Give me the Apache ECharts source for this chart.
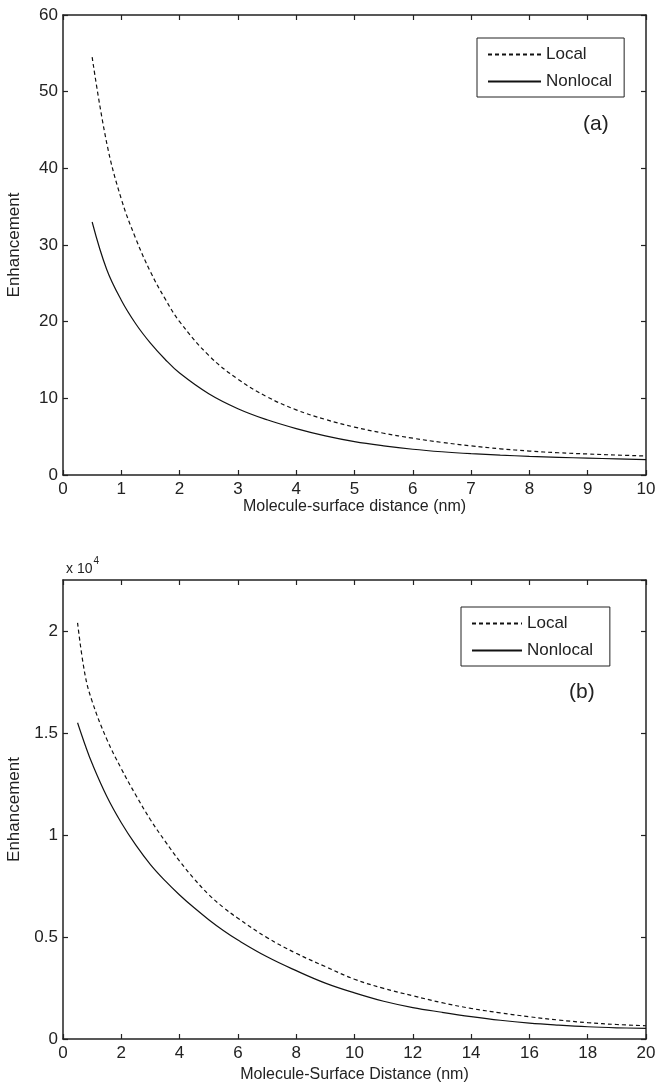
<!DOCTYPE html>
<html>
<head>
<meta charset="utf-8">
<script src="https://cdn.jsdelivr.net/npm/echarts@6/dist/echarts.min.js"></script>
<style>
html,body{margin:0;padding:0;background:#fff;}
#chart{width:655px;height:1091px;}
</style>
</head>
<body>
<div id="chart"></div>
<script>
// Panel (a)
const xA = [0.5, 0.75, 1, 1.25, 1.5, 1.75, 2, 2.5, 3, 3.5, 4, 4.5, 5, 5.5, 6, 6.5, 7, 7.5, 8, 8.5, 9, 9.5, 10];
const localA = [54.5, 43.3, 36.0, 30.8, 26.5, 23.0, 20.0, 15.6, 12.5, 10.2, 8.5, 7.25, 6.25, 5.45, 4.8, 4.25, 3.8, 3.42, 3.12, 2.9, 2.74, 2.6, 2.48];
const nonlocalA = [33.0, 26.8, 22.8, 19.7, 17.2, 15.1, 13.3, 10.6, 8.65, 7.2, 6.05, 5.1, 4.35, 3.8, 3.36, 3.03, 2.78, 2.59, 2.44, 2.31, 2.2, 2.1, 2.0];
// Panel (b)
const xB = [0.5, 0.75, 1, 1.5, 2, 2.5, 3, 3.5, 4, 4.5, 5, 5.5, 6, 7, 8, 9, 10, 11, 12, 13, 14, 15, 16, 17, 18, 19, 20];
const localB = [20400, 17900, 16550, 14700, 13250, 11950, 10750, 9700, 8720, 7850, 7080, 6450, 5920, 4970, 4200, 3550, 2930, 2480, 2120, 1780, 1500, 1280, 1090, 930, 800, 710, 650];
const nonlocalB = [15500, 14450, 13500, 11900, 10600, 9500, 8550, 7760, 7060, 6430, 5850, 5320, 4850, 4030, 3350, 2740, 2260, 1850, 1540, 1310, 1100, 920, 780, 680, 600, 550, 520];
// Axis ticks
const yTicksA = [0, 10, 20, 30, 40, 50, 60];
const xTicksA = [0, 1, 2, 3, 4, 5, 6, 7, 8, 9, 10];
const yTicksB = [0, 5000, 10000, 15000, 20000];
const xTicksB = [0, 2, 4, 6, 8, 10, 12, 14, 16, 18, 20];
const seriesNames = ['Local', 'Nonlocal'];

const FONT = 'Liberation Sans, Arial, Helvetica, sans-serif';
const axisColor = '#222';

function pairs(xs, ys){ return xs.map((x,i)=>[x, ys[i]]); }

function mainX(gi, ticks, name, gap){
  return {
    gridIndex: gi, type: 'value',
    min: ticks[0], max: ticks[ticks.length-1], interval: ticks[1]-ticks[0],
    position: 'bottom',
    name: name, nameLocation: 'middle', nameGap: gap,
    nameTextStyle: {color: '#222', fontSize: 16, fontFamily: FONT},
    axisLine: {show: true, onZero: false, lineStyle: {color: axisColor, width: 1.5}},
    axisTick: {show: true, inside: true, length: 5, lineStyle: {color: axisColor, width: 1.2}},
    axisLabel: {color: '#222', fontSize: 17, fontFamily: FONT, margin: 6},
    splitLine: {show: false}
  };
}
function mirrorX(gi, ticks){
  return {
    gridIndex: gi, type: 'value',
    min: ticks[0], max: ticks[ticks.length-1], interval: ticks[1]-ticks[0],
    position: 'top',
    axisLine: {show: true, onZero: false, lineStyle: {color: axisColor, width: 1.5}},
    axisTick: {show: true, inside: true, length: 5, lineStyle: {color: axisColor, width: 1.2}},
    axisLabel: {show: false}, splitLine: {show: false}
  };
}
function mainY(gi, min, max, interval, fmt){
  return {
    gridIndex: gi, type: 'value', min: min, max: max, interval: interval,
    position: 'left',
    name: 'Enhancement', nameLocation: 'middle', nameGap: 40,
    nameTextStyle: {color: '#222', fontSize: 17, fontFamily: FONT},
    axisLine: {show: true, onZero: false, lineStyle: {color: axisColor, width: 1.5}},
    axisTick: {show: true, inside: true, length: 5, lineStyle: {color: axisColor, width: 1.2}},
    axisLabel: {color: '#222', fontSize: 17, fontFamily: FONT, margin: 5, formatter: fmt, showMaxLabel: max % interval === 0},
    splitLine: {show: false}
  };
}
function mirrorY(gi, min, max, interval){
  return {
    gridIndex: gi, type: 'value', min: min, max: max, interval: interval,
    position: 'right',
    axisLine: {show: true, onZero: false, lineStyle: {color: axisColor, width: 1.5}},
    axisTick: {show: true, inside: true, length: 5, lineStyle: {color: axisColor, width: 1.2}},
    axisLabel: {show: false}, splitLine: {show: false}
  };
}
function lineSeries(name, xi, yi, data, dashed){
  return {
    name: name, type: 'line', xAxisIndex: xi, yAxisIndex: yi,
    data: data, showSymbol: false, symbol: 'none', smooth: 0.4,
    lineStyle: {color: '#111', width: 1.2, type: dashed ? [4, 3] : 'solid'},
    itemStyle: {color: '#111'},
    silent: true, animation: false
  };
}
function legendAt(left, top, w, idx){
  return {
    orient: 'vertical', left: left, top: top,
    data: seriesNames.map(n => ({name: n + (idx ? ' ' : '')})),
    itemWidth: w, itemHeight: 14, itemGap: 10,
    padding: [8, 12, 7, 10],
    borderColor: '#222', borderWidth: 1, backgroundColor: '#fff',
    itemStyle: {opacity: 0},
    textStyle: {color: '#222', fontSize: 17, fontFamily: FONT},
    selectedMode: false
  };
}

const chart = echarts.init(document.getElementById('chart'), null, {renderer: 'canvas'});
const yFmtB = v => (v === 22500 ? '' : String(v / 10000));

chart.setOption({
  animation: false,
  backgroundColor: '#fff',
  grid: [
    {left: 63, right: 9, top: 15, height: 460, containLabel: false, outerBoundsMode: 'none'},
    {left: 63, right: 9, top: 580, height: 459, containLabel: false, outerBoundsMode: 'none'}
  ],
  xAxis: [
    mainX(0, xTicksA, 'Molecule-surface distance (nm)', 24),
    mirrorX(0, xTicksA),
    mainX(1, xTicksB, 'Molecule-Surface Distance (nm)', 28),
    mirrorX(1, xTicksB)
  ],
  yAxis: [
    mainY(0, yTicksA[0], yTicksA[yTicksA.length-1], yTicksA[1]-yTicksA[0], null),
    mirrorY(0, yTicksA[0], yTicksA[yTicksA.length-1], yTicksA[1]-yTicksA[0]),
    mainY(1, yTicksB[0], 22500, yTicksB[1]-yTicksB[0], yFmtB),
    mirrorY(1, yTicksB[0], 22500, yTicksB[1]-yTicksB[0])
  ],
  legend: [legendAt(477, 38, 53, 0), legendAt(461, 607, 50, 1)],
  title: [
    {text: '(a)', left: 578, top: 109, textStyle: {fontSize: 21, fontWeight: 'normal', color: '#222', fontFamily: FONT}},
    {text: '(b)', left: 564, top: 677, textStyle: {fontSize: 21, fontWeight: 'normal', color: '#222', fontFamily: FONT}},
    {text: '{a|x 10}{b|4}', left: 61, top: 551,
     textStyle: {fontWeight: 'normal', rich: {
       a: {fontSize: 14, fontWeight: 'normal', color: '#222', fontFamily: FONT, verticalAlign: 'bottom', padding: [6,0,0,0]},
       b: {fontSize: 10, fontWeight: 'normal', color: '#222', fontFamily: FONT, verticalAlign: 'top', padding: [0,0,0,1]}
     }}}
  ],
  series: [
    lineSeries('Local', 0, 0, pairs(xA, localA), true),
    lineSeries('Nonlocal', 0, 0, pairs(xA, nonlocalA), false),
    lineSeries('Local ', 2, 2, pairs(xB, localB), true),
    lineSeries('Nonlocal ', 2, 2, pairs(xB, nonlocalB), false)
  ]
});
</script>
</body>
</html>
